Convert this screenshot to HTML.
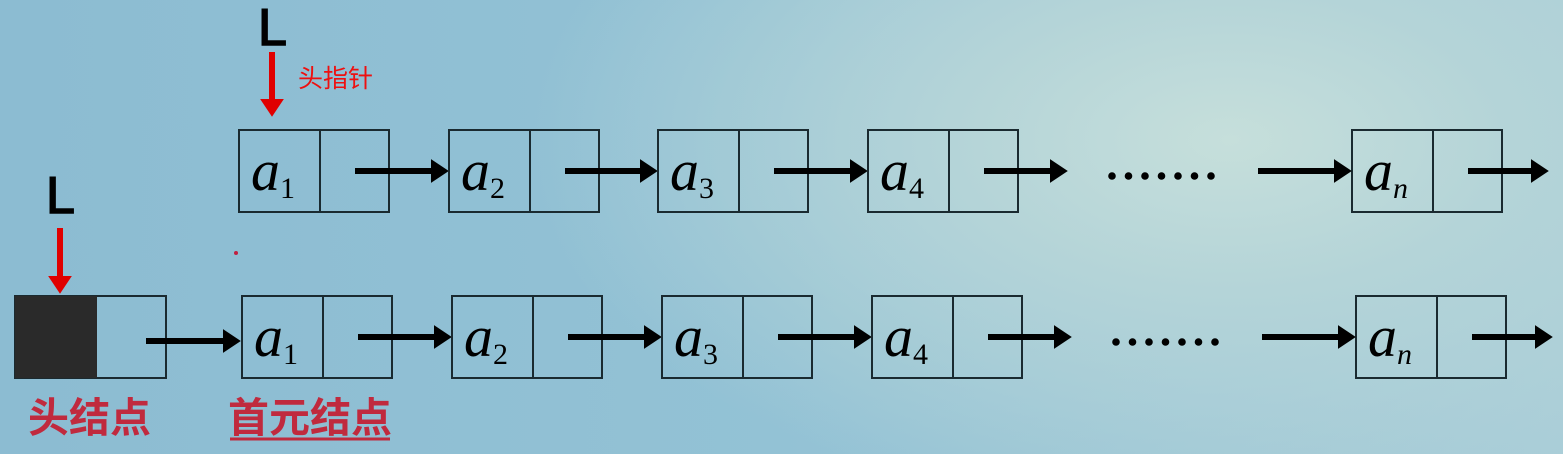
<!DOCTYPE html>
<html><head><meta charset="utf-8">
<style>
html,body{margin:0;padding:0;width:1563px;height:454px;overflow:hidden}
body{background:radial-gradient(ellipse 700px 380px at 1230px 140px,#c6dfdb 0%,#b4d4d8 40%,rgba(160,200,215,0) 100%),linear-gradient(90deg,#8cbcd2 0%,#93c2d5 50%,#a9cdd8 100%);}
svg{position:absolute;left:0;top:0}
</style></head>
<body>
<svg id="d" width="1563" height="454" font-family="'Liberation Serif','Noto Serif CJK SC',serif">
<defs>
<marker id="ah" markerWidth="4" markerHeight="4" refX="2.2" refY="2" orient="auto" markerUnits="strokeWidth"><path d="M0,0 L3,2 L0,4 z" fill="#000"/></marker>
<marker id="rh" markerWidth="4" markerHeight="4" refX="2.2" refY="2" orient="auto" markerUnits="strokeWidth"><path d="M0,0 L3,2 L0,4 z" fill="#e00000"/></marker>
</defs>
<g id="nodes"></g>
<text x="258" y="45" font-family="'Liberation Sans',sans-serif" font-size="52" stroke="#000" stroke-width="1.5">L</text>
<line x1="272" y1="52" x2="272" y2="112" stroke="#e00000" stroke-width="6" marker-end="url(#rh)"/>
<text x="298" y="87" font-family="'Liberation Sans','Noto Sans CJK SC',sans-serif" font-size="25" fill="#ee1010">头指针</text>
<text x="46" y="213" font-family="'Liberation Sans',sans-serif" font-size="52" stroke="#000" stroke-width="1.5">L</text>
<line x1="60" y1="228" x2="60" y2="289" stroke="#e00000" stroke-width="6" marker-end="url(#rh)"/>
<rect x="15" y="296" width="151" height="82" fill="none" stroke="#1a2a30" stroke-width="2"/>
<rect x="15" y="296" width="82" height="82" fill="#2a2a2a"/>
<line x1="146" y1="341" x2="236" y2="341" stroke="#000" stroke-width="6" marker-end="url(#ah)"/>
<text x="28" y="432" font-family="'Liberation Sans','Noto Sans CJK SC',sans-serif" font-size="41" font-weight="bold" fill="#c02a3e">头结点</text>
<text x="228" y="432" font-family="'Liberation Sans','Noto Sans CJK SC',sans-serif" font-size="41" font-weight="bold" fill="#c02a3e">首元结点</text>
<line x1="230" y1="439" x2="390" y2="439" stroke="#c02a3e" stroke-width="3"/>
<circle cx="236" cy="253" r="2" fill="#c02040"/>
</svg>
<script>
const labels=["1","2","3","4","n"];
const topX=[239,449,658,868,1352];
const botX=[242,452,662,872,1356];
const rows=[{xs:topX,y:130,dots:1108,name:"top"},{xs:botX,y:296,dots:1112,name:"bottom"}];
const g=document.getElementById('nodes');
const NS="http://www.w3.org/2000/svg";
function mk(t,a){const e=document.createElementNS(NS,t);for(const k in a)e.setAttribute(k,a[k]);g.appendChild(e);return e;}
rows.forEach(r=>{
  r.xs.forEach((x,i)=>{
    const b=mk('rect',{x:x,y:r.y,width:150,height:82,fill:'none',stroke:'#1a2a30','stroke-width':2});
    
    
    const d=mk('line',{x1:x+81,y1:r.y,x2:x+81,y2:r.y+82,stroke:'#1a2a30','stroke-width':2});
    
    
    const t=mk('text',{x:x+12,y:r.y+60,'font-size':58,'font-style':'italic'});
    t.textContent='a';
    const s=document.createElementNS(NS,'tspan');
    s.setAttribute('font-size','30');s.setAttribute('dy','8');
    s.setAttribute('font-style',labels[i]==='n'?'italic':'normal');
    s.textContent=labels[i];t.appendChild(s);
    
    
    const nx=(i<r.xs.length-1)?(i===3?x+195:r.xs[i+1]-5):x+192;
    const ay=r.y+41;
    const a=mk('line',{x1:x+116,y1:ay,x2:nx,y2:ay,stroke:'#000','stroke-width':6,'marker-end':'url(#ah)'});
    
    
  });
  const pre=mk('line',{x1:r.xs[4]-94,y1:r.y+41,x2:r.xs[4]-5,y2:r.y+41,stroke:'#000','stroke-width':6,'marker-end':'url(#ah)'});
  
  
  for(let k=0;k<7;k++){
    const c=mk('circle',{cx:r.dots+4+k*16.5,cy:r.y+46,r:3.8,fill:'#000'});
    
    
  }
});
</script>
</body></html>
